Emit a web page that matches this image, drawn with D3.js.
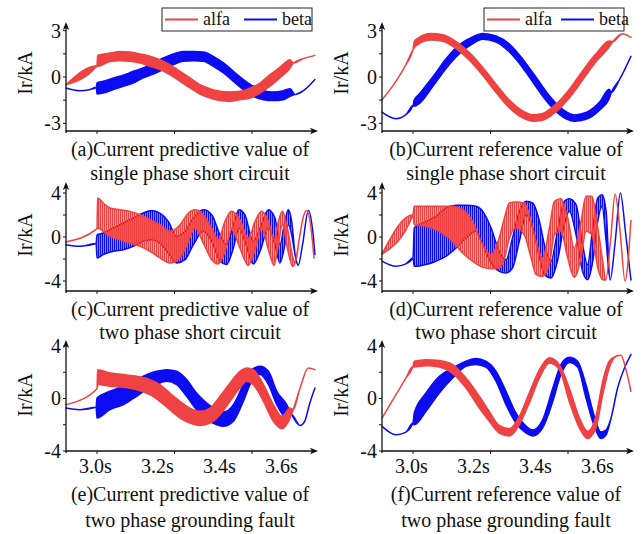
<!DOCTYPE html>
<html>
<head>
<meta charset="utf-8">
<script src="https://cdn.jsdelivr.net/npm/d3@7"></script>
<style>
  body { margin: 0; background: #fff; }
  text { font-family: "Liberation Serif", "Times New Roman", serif; fill: #111; }
</style>
</head>
<body>
<svg id="chart" width="644" height="534"></svg>
<script>
// ================= DATA =================
const seriesNames = ["alfa", "beta"];
const xTickValues = [3.0, 3.25, 3.5];
const xLabelValues = [3.0, 3.2, 3.4, 3.6];
const xLabelText = ["3.0s", "3.2s", "3.4s", "3.6s"];
const yTicksTop = [-3, -1.5, 0, 1.5, 3];
const yLabelsTop = [-3, 0, 3];
const yTicksLower = [-4, -2, 0, 2, 4];
const yLabelsLower = [-4, 0, 4];
const yAxisTitle = "Ir/kA";
const captions = [
  ["(a)Current predictive value of", "single phase short circuit"],
  ["(b)Current reference value of", "single phase short circuit"],
  ["(c)Current predictive value of", "two phase short circuit"],
  ["(d)Current reference value of", "two phase short circuit"],
  ["(e)Current predictive value of", "two phase grounding fault"],
  ["(f)Current reference value of", "two phase grounding fault"]
];

// each row: [time (s), ripple low (kA), ripple high (kA)]; low == high where the trace is clean
const alfaA = [[2.9,-0.5,-0.5],[3.0,0.73,0.73],[3.002,0.69,1.4],[3.042,1.0,1.55],[3.074,1.06,1.66],[3.106,1.02,1.62],[3.139,0.9,1.49],[3.171,0.69,1.34],[3.203,0.48,1.12],[3.235,0.15,0.8],[3.268,-0.28,0.37],[3.3,-0.71,-0.06],[3.332,-1.1,-0.5],[3.365,-1.36,-0.76],[3.397,-1.53,-0.93],[3.429,-1.58,-0.97],[3.461,-1.47,-0.93],[3.494,-1.36,-0.71],[3.526,-1.04,-0.39],[3.558,-0.6,0.15],[3.59,-0.06,0.63],[3.623,0.58,1.12],[3.633,0.9,0.9],[3.666,1.19,1.19],[3.703,1.4,1.4]];
const betaA = [[2.9,-0.71,-0.71],[2.945,-0.89,-0.89],[2.975,-0.82,-0.82],[2.998,-0.67,-0.67],[3.0,-1.1,-0.39],[3.02,-1.04,-0.28],[3.053,-0.82,-0.06],[3.085,-0.6,0.11],[3.117,-0.39,0.37],[3.149,-0.06,0.58],[3.182,0.19,0.91],[3.214,0.48,1.23],[3.246,0.8,1.49],[3.278,1.02,1.66],[3.311,1.06,1.66],[3.343,1.02,1.62],[3.375,0.69,1.34],[3.408,0.26,0.91],[3.44,-0.28,0.37],[3.472,-0.82,-0.17],[3.504,-1.25,-0.6],[3.537,-1.47,-0.89],[3.569,-1.53,-0.97],[3.601,-1.47,-0.89],[3.623,-1.25,-0.76],[3.639,-1.14,-1.14],[3.666,-0.89,-0.89],[3.703,-0.17,-0.17]];

const alfaB = [[2.9,-1.47,-1.47],[2.945,-0.28,-0.28],[2.977,0.8,0.8],[3.0,1.77,1.77],[3.004,1.9,2.3],[3.015,2.1,2.5],[3.058,2.4,2.82],[3.096,2.32,2.74],[3.139,1.84,2.3],[3.182,1.08,1.58],[3.225,0.1,0.62],[3.268,-1.0,-0.46],[3.311,-2.0,-1.5],[3.354,-2.65,-2.2],[3.386,-2.86,-2.44],[3.418,-2.8,-2.36],[3.461,-2.26,-1.76],[3.504,-1.36,-0.8],[3.547,-0.2,0.4],[3.59,0.98,1.5],[3.633,1.95,2.34],[3.645,2.3,2.3],[3.676,2.81,2.81],[3.703,2.57,2.57]];
const betaB = [[2.9,-2.27,-2.27],[2.945,-2.7,-2.7],[2.977,-2.44,-2.44],[3.0,-1.84,-1.84],[3.004,-1.9,-1.5],[3.02,-1.72,-1.1],[3.063,-0.64,-0.02],[3.106,0.54,1.16],[3.149,1.5,2.08],[3.192,2.14,2.6],[3.225,2.44,2.82],[3.268,2.27,2.66],[3.311,1.62,2.14],[3.354,0.6,1.16],[3.397,-0.64,-0.02],[3.44,-1.78,-1.22],[3.483,-2.58,-2.1],[3.52,-2.86,-2.46],[3.558,-2.74,-2.3],[3.601,-2.16,-1.64],[3.633,-1.4,-0.8],[3.64,-1.0,-1.0],[3.666,-0.17,-0.17],[3.703,1.34,1.34]];

const alfaC = [[2.9,-0.45,-0.45],[3.0,0.76,0.76],[3.002,0.82,3.55],[3.02,0.52,3.09],[3.042,0.06,2.64],[3.074,-0.24,2.48],[3.106,-0.55,2.33],[3.139,-0.85,2.03],[3.171,-1.3,1.58],[3.203,-1.9,1.12],[3.235,-2.36,0.52],[3.268,-1.9,1.12],[3.295,-0.4,2.18],[3.316,0.82,2.48],[3.343,-0.55,2.03],[3.37,-2.06,0.82],[3.391,-2.45,-0.24],[3.413,-1.3,1.42],[3.434,0.67,2.33],[3.461,-1.0,1.58],[3.488,-2.58,-0.09],[3.51,-1.15,1.42],[3.531,0.82,2.33],[3.553,-1.15,1.42],[3.571,-2.58,-0.24],[3.585,-0.7,1.42],[3.598,1.12,2.33],[3.614,-1.0,0.82],[3.631,-2.67,-1.76],[3.639,-2.36,-2.36],[3.653,-0.09,-0.09],[3.666,1.88,1.88],[3.676,2.42,2.42],[3.689,1.12,1.12],[3.7,-1.9,-1.9]];
const betaC = [[2.9,-0.7,-0.7],[2.945,-0.85,-0.85],[2.997,-0.6,-0.6],[3.0,-1.9,0.2],[3.02,-1.6,0.36],[3.053,-1.3,0.82],[3.085,-1.15,1.27],[3.117,-0.85,1.73],[3.149,-0.4,2.18],[3.176,-0.24,2.42],[3.203,-0.55,2.18],[3.23,-1.45,1.42],[3.257,-2.36,0.06],[3.284,-2.06,0.52],[3.311,-0.7,1.73],[3.343,0.52,2.48],[3.37,-0.4,2.03],[3.397,-2.2,0.2],[3.418,-2.5,-0.7],[3.44,-1.0,1.12],[3.458,0.82,2.48],[3.477,-0.4,2.03],[3.504,-2.45,-0.4],[3.526,-1.3,0.82],[3.553,0.82,2.48],[3.574,-0.7,1.73],[3.59,-2.36,-0.7],[3.606,-0.7,1.42],[3.617,1.12,2.48],[3.628,0.2,1.42],[3.639,-1.6,-1.6],[3.649,-2.58,-2.58],[3.663,-0.7,-0.7],[3.682,2.42,2.42],[3.696,0.52,0.52],[3.703,-1.6,-1.6]];

const alfaD = [[2.9,-1.55,-1.55],[3.0,2.03,2.03],[3.004,1.12,2.79],[3.042,0.97,2.79],[3.085,0.52,2.79],[3.128,-0.4,2.79],[3.16,-1.45,2.48],[3.192,-2.2,1.42],[3.225,-2.76,-0.7],[3.252,-2.88,-1.6],[3.278,-2.82,-0.09],[3.295,-1.9,1.73],[3.311,-0.09,3.09],[3.332,0.82,3.18],[3.359,0.2,3.09],[3.381,-1.9,1.42],[3.397,-3.42,-0.4],[3.418,-3.58,-1.9],[3.44,-2.5,0.82],[3.456,0.2,3.24],[3.477,0.52,3.48],[3.499,-1.9,1.73],[3.52,-3.67,-1.0],[3.542,-1.9,1.42],[3.558,0.52,3.7],[3.577,0.2,3.7],[3.596,-2.82,0.82],[3.612,-3.88,-2.2],[3.622,-3.9,-3.9],[3.637,-0.4,-0.4],[3.652,3.9,3.9],[3.668,0.5,0.5],[3.684,-4.0,-4.0],[3.703,1.5,1.5]];
const betaD = [[2.9,-2.2,-2.2],[2.945,-2.67,-2.67],[2.977,-2.45,-2.45],[3.0,-1.9,-1.9],[3.004,-2.67,0.82],[3.042,-2.5,1.42],[3.074,-2.2,1.88],[3.106,-1.76,2.64],[3.139,-1.0,2.88],[3.171,-0.09,2.88],[3.203,0.52,2.79],[3.225,-0.7,2.33],[3.252,-2.36,0.82],[3.278,-3.12,-1.3],[3.3,-3.27,-2.06],[3.321,-2.82,-0.09],[3.343,-0.4,2.33],[3.365,2.03,3.24],[3.386,0.82,3.09],[3.408,-1.9,1.42],[3.424,-3.42,-0.7],[3.445,-3.73,-2.2],[3.466,-2.2,0.52],[3.488,1.12,3.24],[3.504,2.33,3.48],[3.526,0.2,2.94],[3.547,-3.12,-0.7],[3.563,-3.88,-2.5],[3.58,-2.2,0.82],[3.596,1.42,3.55],[3.61,2.79,3.85],[3.623,-0.4,2.33],[3.636,-3.9,-3.9],[3.652,-0.5,-0.5],[3.669,4.0,4.0],[3.686,0.3,0.3],[3.703,-3.9,-3.9]];

const alfaE = [[2.9,-0.47,-0.47],[3.0,0.75,0.75],[3.002,1.06,2.2],[3.042,0.93,1.95],[3.085,0.85,1.82],[3.128,0.67,1.69],[3.171,0.29,1.44],[3.203,-0.22,1.06],[3.235,-0.85,0.42],[3.268,-1.49,-0.22],[3.3,-1.87,-0.73],[3.332,-2.05,-0.98],[3.365,-1.87,-0.73],[3.397,-1.23,0.17],[3.429,-0.22,1.18],[3.461,0.8,2.07],[3.483,1.31,2.33],[3.504,1.06,2.2],[3.537,-0.22,1.06],[3.569,-1.74,-0.47],[3.596,-2.3,-1.36],[3.623,-1.49,-0.73],[3.633,-0.85,-0.85],[3.655,0.8,0.8],[3.682,2.33,2.33],[3.703,2.2,2.2]];
const betaE = [[2.9,-0.73,-0.73],[2.945,-0.85,-0.85],[2.997,-0.67,-0.67],[3.0,-1.49,0.04],[3.042,-0.85,0.55],[3.085,-0.47,0.93],[3.128,0.17,1.44],[3.16,0.67,1.82],[3.192,1.06,2.07],[3.225,1.31,2.2],[3.257,1.06,2.07],[3.289,0.17,1.44],[3.321,-0.85,0.42],[3.354,-1.62,-0.34],[3.386,-2.0,-0.85],[3.408,-2.12,-1.03],[3.44,-1.74,-0.47],[3.472,-0.22,1.06],[3.499,1.31,2.2],[3.526,1.82,2.46],[3.553,1.06,2.07],[3.58,-0.47,0.55],[3.612,-1.49,-0.47],[3.628,-1.23,-1.23],[3.655,-2.05,-2.05],[3.67,-1.74,-1.74],[3.685,-0.47,-0.47],[3.703,0.8,0.8]];

const alfaF = [[2.9,-1.49,-1.49],[2.945,0.29,0.29],[2.977,1.56,1.56],[3.0,2.46,2.46],[3.004,2.4,2.84],[3.042,2.5,2.96],[3.085,2.4,2.89],[3.128,1.9,2.58],[3.171,0.8,1.56],[3.214,-0.73,0.17],[3.246,-1.74,-0.98],[3.278,-2.63,-2.05],[3.311,-2.85,-2.3],[3.343,-2.0,-1.36],[3.375,-0.34,0.42],[3.408,1.56,2.2],[3.44,2.7,3.1],[3.472,2.2,2.58],[3.504,-0.22,0.8],[3.537,-2.25,-1.49],[3.563,-3.05,-2.5],[3.59,-2.25,-1.36],[3.612,0.29,1.31],[3.633,2.33,2.84],[3.655,3.22,3.22],[3.671,3.3,3.3],[3.687,2.2,2.2],[3.703,0.55,0.55]];
const betaF = [[2.9,-2.12,-2.12],[2.945,-2.76,-2.76],[2.977,-2.56,-2.56],[3.0,-1.87,-1.87],[3.004,-2.0,-1.1],[3.042,-0.98,0.42],[3.085,0.42,1.69],[3.128,1.56,2.33],[3.171,2.46,2.84],[3.203,2.6,3.04],[3.235,2.4,2.84],[3.268,1.31,2.07],[3.3,-0.47,0.55],[3.332,-1.87,-1.1],[3.365,-2.63,-2.1],[3.386,-2.85,-2.4],[3.418,-2.25,-1.62],[3.451,-0.22,0.8],[3.477,1.82,2.58],[3.504,2.75,3.14],[3.531,2.4,2.84],[3.558,0.04,1.06],[3.585,-2.12,-1.36],[3.606,-3.05,-2.55],[3.623,-2.76,-2.38],[3.639,-1.49,-1.49],[3.66,0.8,0.8],[3.682,2.33,2.33],[3.703,3.35,3.35]];

// ================= LAYOUT =================
const red = "#ef4242";
const blue = "#0c0cf2";
const plotW = 248;
const tDomain = [2.9, 3.7];

const rows = [
  { yDomain: [-3, 3], yRange: [123.3, 30.7], axisY: 131, topY: 22, ticks: yTicksTop, labels: yLabelsTop, titleY: 73, capY: [156, 180] },
  { yDomain: [-4, 4], yRange: [281, 193], axisY: 291, topY: 182, ticks: yTicksLower, labels: yLabelsLower, titleY: 235, capY: [316, 339] },
  { yDomain: [-4, 4], yRange: [451, 346], axisY: 451, topY: 340, ticks: yTicksLower, labels: yLabelsLower, titleY: 395, capY: [501, 527] }
];
const cols = [
  { x0: 66, capX: 190, legend: [162, 8, 150, 23] },
  { x0: 382, capX: 506, legend: [484, 8, 140, 23] }
];

const panels = [
  { row: 0, col: 0, alfa: alfaA, beta: betaA, dense: true },
  { row: 0, col: 1, alfa: alfaB, beta: betaB, dense: true },
  { row: 1, col: 0, alfa: alfaC, beta: betaC, dense: false },
  { row: 1, col: 1, alfa: alfaD, beta: betaD, dense: false },
  { row: 2, col: 0, alfa: alfaE, beta: betaE, dense: true },
  { row: 2, col: 1, alfa: alfaF, beta: betaF, dense: true }
];

const svg = d3.select("#chart");

// ripple texture for the heavy switching ripple in (c) and (d)
const defs = svg.append("defs");
[["red", red], ["blue", blue]].forEach(([key, color]) => {
  const p = defs.append("pattern")
    .attr("id", `rip-${key}`)
    .attr("patternUnits", "userSpaceOnUse")
    .attr("width", 2)
    .attr("height", 6);
  p.append("rect").attr("width", 1.5).attr("height", 6).attr("fill", color);
});

function arrowHead(g, x, y, dir) {
  const pts = dir === "right"
    ? [[x, y], [x - 8, y - 3.2], [x - 6, y], [x - 8, y + 3.2]]
    : [[x, y], [x - 3.2, y + 8], [x, y + 6], [x + 3.2, y + 8]];
  g.append("path").attr("d", "M" + pts.join("L") + "Z").attr("fill", "#111");
}

panels.forEach((p, i) => {
  const row = rows[p.row];
  const col = cols[p.col];
  const g = svg.append("g");

  const x = d3.scaleLinear().domain(tDomain).range([col.x0, col.x0 + plotW]);
  const y = d3.scaleLinear().domain(row.yDomain).range(row.yRange);

  // ---------- traces ----------
  const band = d3.area()
    .x((d) => x(d[0]))
    .y0((d) => y(d[1]))
    .y1((d) => y(d[2]))
    .curve(d3.curveMonotoneX);

  [["blue", blue, p.beta], ["red", red, p.alfa]].forEach(([key, color, data]) => {
    g.append("path")
      .datum(data)
      .attr("d", band)
      .attr("fill", p.dense ? color : `url(#rip-${key})`)
      .attr("stroke", color)
      .attr("stroke-width", 1.5)
      .attr("stroke-linejoin", "round");
  });

  // ---------- axes ----------
  const axisColor = "#111";
  g.append("line")
    .attr("x1", col.x0).attr("x2", col.x0 + 250)
    .attr("y1", row.axisY).attr("y2", row.axisY)
    .attr("stroke", axisColor).attr("stroke-width", 1.3);
  arrowHead(g, col.x0 + 252, row.axisY, "right");

  g.append("line")
    .attr("x1", col.x0).attr("x2", col.x0)
    .attr("y1", row.axisY + 2).attr("y2", row.topY + 2)
    .attr("stroke", axisColor).attr("stroke-width", 1.3);
  arrowHead(g, col.x0, row.topY, "up");

  // y ticks (outward) and labels
  g.selectAll(".ytick")
    .data(row.ticks)
    .join("line")
    .attr("x1", col.x0 - 3).attr("x2", col.x0)
    .attr("y1", (d) => y(d)).attr("y2", (d) => y(d))
    .attr("stroke", axisColor).attr("stroke-width", 1);

  g.selectAll(".ylab")
    .data(row.labels)
    .join("text")
    .attr("x", col.x0 - 5)
    .attr("y", (d) => y(d))
    .attr("dy", "0.34em")
    .attr("text-anchor", "end")
    .attr("font-size", 20)
    .text((d) => String(d));

  // x ticks (outward)
  g.selectAll(".xtick")
    .data(xTickValues)
    .join("line")
    .attr("x1", (d) => x(d)).attr("x2", (d) => x(d))
    .attr("y1", row.axisY).attr("y2", row.axisY + 3)
    .attr("stroke", axisColor).attr("stroke-width", 1);

  if (p.row === 2) {
    g.selectAll(".xlab")
      .data(xLabelValues)
      .join("text")
      .attr("x", (d) => x(d) - 1.5)
      .attr("y", row.axisY + 22)
      .attr("text-anchor", "middle")
      .attr("font-size", 20)
      .text((d, j) => xLabelText[j]);
  }

  // axis title
  g.append("text")
    .attr("transform", `translate(${col.x0 - 34},${row.titleY}) rotate(-90)`)
    .attr("text-anchor", "middle")
    .attr("font-size", 20)
    .text(yAxisTitle);

  // caption
  g.selectAll(".cap")
    .data(captions[i])
    .join("text")
    .attr("x", col.capX)
    .attr("y", (d, j) => row.capY[j])
    .attr("text-anchor", "middle")
    .attr("font-size", 20)
    .text((d) => d);

  // legend (top row only)
  if (p.row === 0) {
    const [lx, ly, lw, lh] = col.legend;
    const lg = g.append("g");
    lg.append("rect")
      .attr("x", lx).attr("y", ly).attr("width", lw).attr("height", lh)
      .attr("fill", "#fff").attr("stroke", "#222").attr("stroke-width", 1);
    const step = lw / 2;
    seriesNames.forEach((name, k) => {
      const sx = lx + 3 + k * (step + 4);
      lg.append("line")
        .attr("x1", sx).attr("x2", sx + 33)
        .attr("y1", ly + lh / 2).attr("y2", ly + lh / 2)
        .attr("stroke", k === 0 ? red : blue).attr("stroke-width", 2);
      lg.append("text")
        .attr("x", sx + 38).attr("y", ly + lh / 2)
        .attr("dy", "0.33em")
        .attr("font-size", 18)
        .text(name);
    });
  }
});
</script>
</body>
</html>
